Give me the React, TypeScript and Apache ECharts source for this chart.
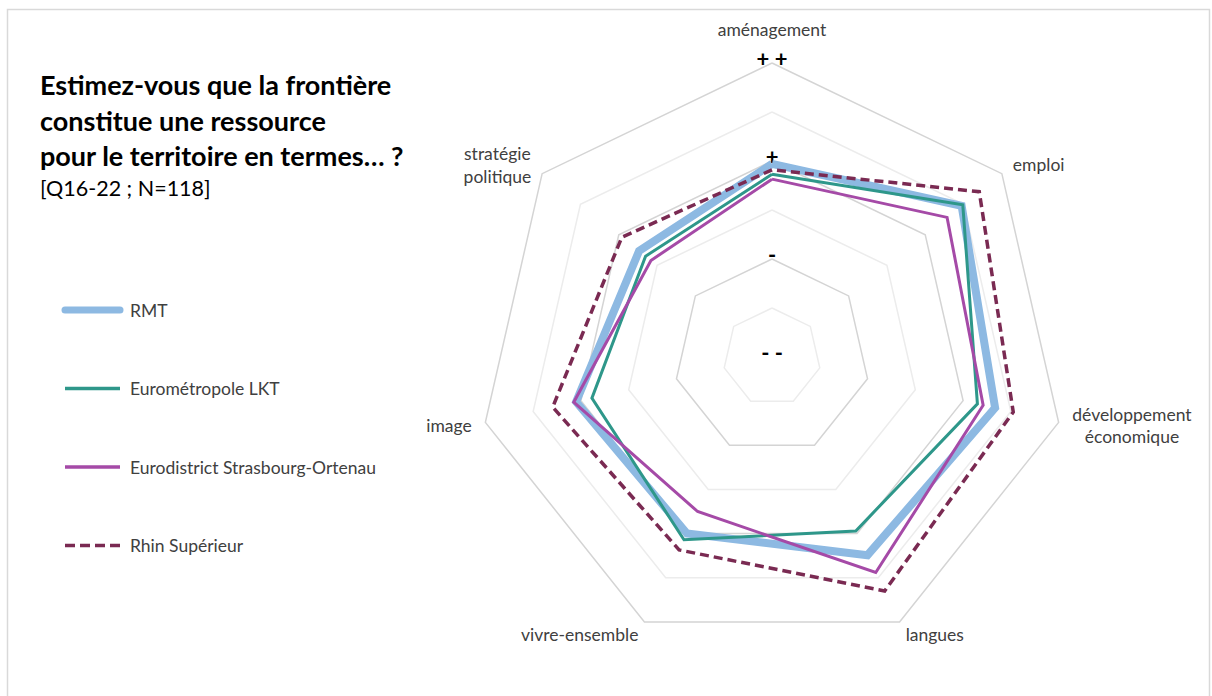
import React, { useEffect, useRef } from "react";
import * as echarts from "echarts";

// Indicators in clockwise order starting at the top
const categories = [
  "aménagement",
  "emploi",
  "développement\néconomique",
  "langues",
  "vivre-ensemble",
  "image",
  "stratégie\npolitique",
];

const seriesNames = [
  "RMT",
  "Eurométropole LKT",
  "Eurodistrict Strasbourg-Ortenau",
  "Rhin Supérieur",
];

const rmtValues = [3.94, 4.95, 4.67, 4.49, 4.0, 4.1, 3.47];
const lktValues = [3.73, 4.98, 4.3, 3.94, 4.14, 3.77, 3.3];
const eurodistrictValues = [3.63, 4.57, 4.42, 4.88, 3.5, 4.15, 3.16];
const rhinValues = [3.82, 5.41, 5.05, 5.3, 4.37, 4.59, 3.92];

const scaleMax = 6;
const tickLabels: Record<number, string> = { 0: "- -", 2: "-", 4: "+", 6: "+ +" };

const titleText = "Estimez-vous que la frontière\nconstitue une ressource\npour le territoire en termes… ?";
const subText = "[Q16-22 ; N=118]";

const FONT = "Lato, 'Open Sans', sans-serif";

// ECharts radar runs counter-clockwise: reorder to display clockwise
const order = [0, 6, 5, 4, 3, 2, 1];
const reorder = (arr: any[]) => order.map((i) => arr[i]);

export default function App() {
  const ref = useRef<HTMLDivElement>(null);

  useEffect(() => {
    if (!ref.current) return;
    const chart = echarts.init(ref.current, undefined, { renderer: "svg" });

    const colors = ["#8DB9E2", "#2E978A", "#A54AA7", "#7A2A52"];
    const widths = [8, 3, 3, 3.5];
    const dashes: any[] = ["solid", "solid", "solid", [9, 5]];
    const valuesList = [rmtValues, lktValues, eurodistrictValues, rhinValues];

    const indicators = reorder(categories).map((name: string, i: number) => {
      const ind: any = { name, max: scaleMax, min: 0 };
      if (i === 0) {
        ind.nameGap = 22;
        ind.axisLabel = {
          show: true,
          margin: 0,
          showMinLabel: true,
          showMaxLabel: true,
          formatter: (v: number) => (tickLabels[Math.round(v)] !== undefined ? tickLabels[Math.round(v)] : ""),
          color: "#000",
          fontSize: 22,
          fontWeight: "bold",
          fontFamily: FONT,
          align: "center",
          verticalAlign: "bottom",
          lineHeight: 9,
        };
      }
      return ind;
    });

    const legendGraphics: any[] = [];
    seriesNames.forEach((n, i) => {
      const y = 310 + i * 78.5;
      legendGraphics.push({
        type: "line",
        shape: { x1: 65, y1: y, x2: 120, y2: y },
        style: {
          stroke: colors[i],
          lineWidth: i === 0 ? 7 : 3.5,
          lineCap: i === 0 ? "round" : "butt",
          lineDash: i === 3 ? [10, 5] : null,
        },
      });
      legendGraphics.push({
        type: "text",
        x: 130,
        y,
        style: {
          text: n,
          fill: "#404040",
          fontSize: 17.5,
          fontFamily: FONT,
          verticalAlign: "middle",
          align: "left",
        },
      });
    });

    chart.setOption({
      animation: false,
      backgroundColor: "#ffffff",
      title: {
        text: titleText,
        subtext: subText,
        left: 35,
        top: 62,
        itemGap: 2,
        textStyle: {
          fontSize: 27,
          fontWeight: "bold",
          color: "#000",
          fontFamily: FONT,
          lineHeight: 35.5,
        },
        subtextStyle: {
          fontSize: 21.5,
          color: "#000",
          fontFamily: FONT,
          lineHeight: 24,
        },
      },
      graphic: [
        {
          type: "rect",
          shape: { x: 7.5, y: 9.5, width: 1202, height: 700 },
          style: { fill: "none", stroke: "#d9d9d9", lineWidth: 1.5 },
          silent: true,
        },
        ...legendGraphics,
      ],
      radar: {
        center: [772, 357],
        radius: 294,
        startAngle: 90,
        splitNumber: 6,
        shape: "polygon",
        indicator: indicators,
        nameGap: 14,
        axisName: {
          color: "#404040",
          fontSize: 17.5,
          fontFamily: FONT,
          lineHeight: 22,
          formatter: (name: string) =>
            name
              .split("\n")
              .map((l) => "{c|" + l + "}")
              .join("\n"),
          rich: {
            c: { align: "center", fontSize: 17.5, fontFamily: FONT, color: "#404040", lineHeight: 22.5 },
          },
        },
        axisLine: { show: false },
        axisTick: { show: false },
        axisLabel: { show: false },
        splitArea: { show: false },
        splitLine: {
          lineStyle: { color: ["#d4d4d4", "#ececec"], width: 1.5 },
        },
      },
      series: seriesNames.map((n, i) => ({
        type: "radar",
        name: n,
        symbol: "none",
        z: 2 + i,
        lineStyle: { color: colors[i], width: widths[i], type: dashes[i], join: "miter" },
        itemStyle: { color: colors[i] },
        data: [{ value: reorder(valuesList[i]), name: n }],
      })),
    });

    return () => chart.dispose();
  }, []);

  return (
    <div
      ref={ref}
      style={{ position: "fixed", left: 0, top: 0, width: 1212, height: 696 }}
    />
  );
}
